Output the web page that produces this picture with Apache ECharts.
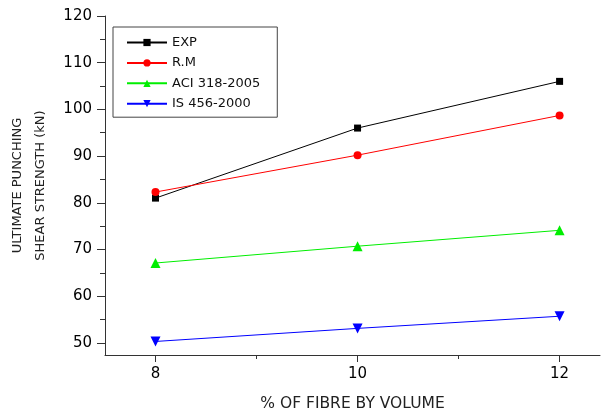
<!DOCTYPE html>
<html><head><meta charset="utf-8">
<script src="https://cdn.jsdelivr.net/npm/echarts@6/dist/echarts.min.js"></script>
<style>html,body{margin:0;padding:0;background:#fff}#c{width:602px;height:413px}</style>
</head><body><div id="c"></div>
<script>
const xValues = [8, 10, 12];
const seriesNames = ['EXP', 'R.M', 'ACI 318-2005', 'IS 456-2000'];
const expValues = [81, 96, 106];
const rmValues = [82.3, 90.2, 98.7];
const aciValues = [67.1, 70.7, 74.1];
const isValues = [50.3, 53.1, 55.7];
const yTickLabels = [50, 60, 70, 80, 90, 100, 110, 120];
const yMinorTicks = [55, 65, 75, 85, 95, 105, 115];
const xTickLabels = [8, 10, 12];
const xMinorTicks = [9, 11];

const font = 'DejaVu Sans';
const chart = echarts.init(document.getElementById('c'));
function pairs(v){ return xValues.map((x,i)=>[x, v[i]]); }
const colors = ['#000000', '#ff0000', '#00ee00', '#0000ff'];
const symbols = ['rect', 'circle', 'triangle', 'path://M0,0 L10,0 L5,9 Z'];
const sizes = [7, 8, 10, 10];
const data = [expValues, rmValues, aciValues, isValues];

chart.setOption({
  animation: false,
  grid: {left: 105, top: 16, right: 2, bottom: 58, outerBoundsMode: 'none', containLabel: false},
  legend: {
    left: 113, top: 27, orient: 'vertical',
    borderColor: '#444', borderWidth: 1,
    padding: [9, 17, 7, 13],
    itemWidth: 40, itemHeight: 9, itemGap: 7.4,
    textStyle: {fontFamily: font, fontSize: 13, color: '#111'},
    data: seriesNames
  },
  xAxis: [{
    type: 'value', min: 7.5, max: 12.4,
    axisLine: {lineStyle: {color: '#333'}},
    splitLine: {show: false},
    axisTick: {customValues: xTickLabels, length: 7, lineStyle: {color: '#333'}},
    axisLabel: {customValues: xTickLabels, fontFamily: font, fontSize: 15, color: '#000', margin: 12},
    name: '% OF FIBRE BY VOLUME', nameLocation: 'middle', nameGap: 41,
    nameTextStyle: {fontFamily: font, fontSize: 15.5, color: '#222'}
  }, {
    type: 'value', min: 7.5, max: 12.4, position: 'bottom',
    axisLine: {show: false}, splitLine: {show: false},
    axisTick: {customValues: xMinorTicks, length: 4, lineStyle: {color: '#333'}},
    axisLabel: {show: false}
  }],
  yAxis: [{
    type: 'value', min: 47.4, max: 120,
    axisLine: {show: true, lineStyle: {color: '#333'}},
    splitLine: {show: false},
    axisTick: {show: true, customValues: yTickLabels, length: 8, lineStyle: {color: '#333'}},
    axisLabel: {customValues: yTickLabels, fontFamily: font, fontSize: 15, color: '#000', margin: 13},
    name: 'ULTIMATE PUNCHING\nSHEAR STRENGTH (kN)', nameLocation: 'middle', nameGap: 53,
    nameTextStyle: {fontFamily: font, fontSize: 13, color: '#222', lineHeight: 23}
  }, {
    type: 'value', min: 47.4, max: 120, position: 'left',
    axisLine: {show: false}, splitLine: {show: false},
    axisTick: {show: true, customValues: yMinorTicks, length: 5, lineStyle: {color: '#333'}},
    axisLabel: {show: false}
  }],
  series: seriesNames.map((n, i) => ({
    name: n, type: 'line', data: pairs(data[i]),
    symbol: symbols[i], symbolSize: sizes[i],
    itemStyle: {color: colors[i]},
    lineStyle: {color: colors[i], width: 1}
  }))
});
</script></body></html>
